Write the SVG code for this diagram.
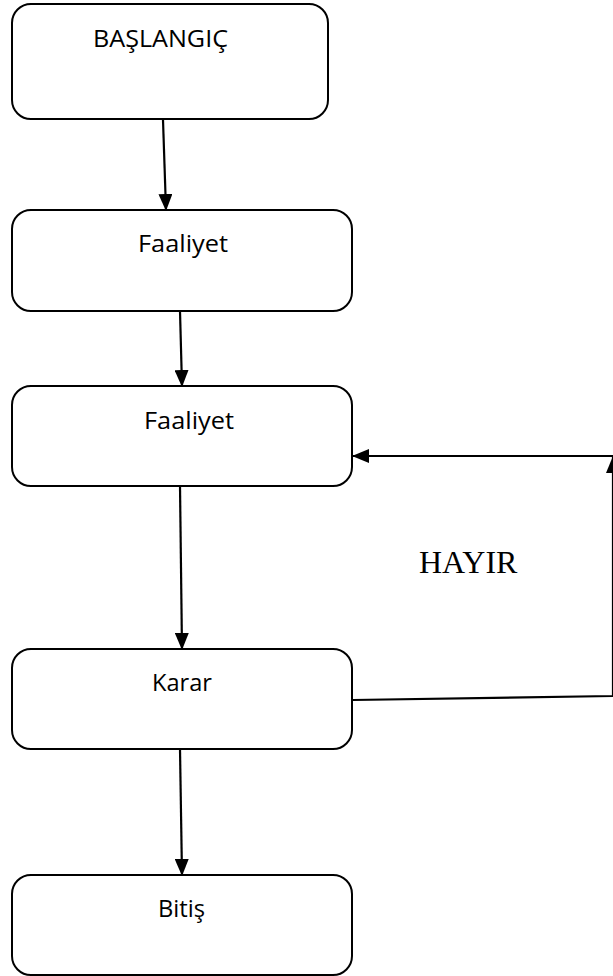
<svg xmlns="http://www.w3.org/2000/svg" width="613" height="976" viewBox="0 0 613 976">
<style>
.box{fill:#fff;stroke:#000;stroke-width:2}
.lbl{font-family:"Open Sans","Liberation Sans",sans-serif;font-size:24px;fill:#000;text-anchor:middle}
.con{fill:none;stroke:#000;stroke-width:2.2}
.hay{font-family:"Liberation Serif","Times New Roman",serif;font-size:32px;fill:#000}
</style>
<defs>
<marker id="ah" markerUnits="userSpaceOnUse" markerWidth="17" markerHeight="14" refX="16" refY="7" orient="auto">
<path d="M0,0 L17,7 L0,14 z" fill="#000"/>
</marker>
</defs>
<rect width="613" height="976" fill="#fff"/>
<g id="connectors">
<path class="con" d="M163,120 L166,210" marker-end="url(#ah)"/>
<path class="con" d="M180,311 L182,386" marker-end="url(#ah)"/>
<path class="con" d="M180,486 L182,649" marker-end="url(#ah)"/>
<path class="con" d="M180,749 L182,875" marker-end="url(#ah)"/>
<path class="con" d="M353,700 L613,696 L613,457" marker-end="url(#ah)"/>
<path class="con" d="M613,456 L353,456" marker-end="url(#ah)"/>
</g>
<g id="start">
<rect class="box" x="12" y="4" width="316" height="115" rx="19" ry="19"/>
<text class="lbl" x="160.5" y="47" textLength="135" lengthAdjust="spacingAndGlyphs">BAŞLANGIÇ</text>
</g>
<g id="faaliyet1">
<rect class="box" x="12" y="210" width="340" height="101" rx="19" ry="19"/>
<text class="lbl" x="183" y="252" textLength="90" lengthAdjust="spacingAndGlyphs">Faaliyet</text>
</g>
<g id="faaliyet2">
<rect class="box" x="12" y="386" width="340" height="100" rx="19" ry="19"/>
<text class="lbl" x="189" y="429" textLength="90" lengthAdjust="spacingAndGlyphs">Faaliyet</text>
</g>
<g id="karar">
<rect class="box" x="12" y="649" width="340" height="100" rx="19" ry="19"/>
<text class="lbl" x="182" y="691" textLength="60" lengthAdjust="spacingAndGlyphs">Karar</text>
</g>
<g id="bitis">
<rect class="box" x="12" y="875" width="340" height="100" rx="19" ry="19"/>
<text class="lbl" x="181.5" y="917" textLength="47" lengthAdjust="spacingAndGlyphs">Bitiş</text>
</g>
<g id="label-hayir">
<text class="hay" x="419" y="573">HAYIR</text>
</g>
</svg>
